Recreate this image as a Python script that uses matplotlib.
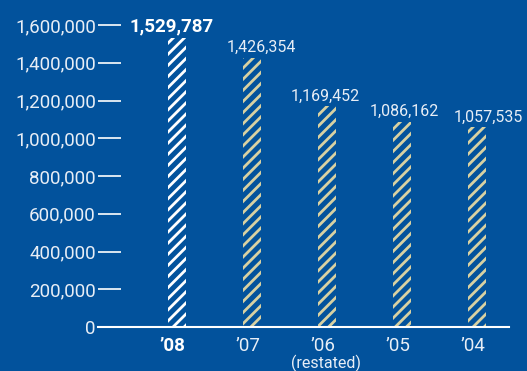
import matplotlib
matplotlib.use("Agg")
import matplotlib.pyplot as plt
from matplotlib.ticker import FuncFormatter

years = ["\u201908", "\u201907", "\u201906", "\u201905", "\u201904"]
values = [1529787, 1426354, 1169452, 1086162, 1057535]
value_labels = ["1,529,787", "1,426,354", "1,169,452", "1,086,162", "1,057,535"]
y_ticks = [0, 200000, 400000, 600000, 800000, 1000000, 1200000, 1400000, 1600000]

BG = "#02529c"
TEXT = "#e8eef6"
CURRENT = "#ffffff"
PRIOR = "#d8d1a2"

plt.rcParams["font.family"] = ["Roboto", "DejaVu Sans"]
plt.rcParams["hatch.linewidth"] = 2.0

W, H = 527, 371
fig = plt.figure(figsize=(W / 100, H / 100), dpi=100, facecolor=BG)
left, right, bottom, top = 98, 509, 327, 25
ax = fig.add_axes([left / W, (H - bottom) / H, (right - left) / W, (bottom - top) / H])
ax.set_facecolor(BG)

x = list(range(len(years)))
colors = [CURRENT] + [PRIOR] * (len(years) - 1)
ax.bar(x, values, width=0.23, fill=False, edgecolor=colors, linewidth=0, hatch="///")

ax.set_xlim(-1.053, 4.427)
ax.set_ylim(0, 1600000)

for s in ["top", "right", "left"]:
    ax.spines[s].set_visible(False)
ax.spines["bottom"].set_color("white")
ax.spines["bottom"].set_linewidth(1.5)

ax.set_yticks(y_ticks)
ax.yaxis.set_major_formatter(FuncFormatter(lambda v, p: f"{int(v):,}"))
ax.tick_params(axis="y", direction="in", length=16.5, width=1.2, color="white",
               labelcolor=TEXT, labelsize=13.5, pad=1.5)

ax.set_xticks([])

# category labels under the axis
for i, lab in enumerate(years):
    bold = i == 0
    ax.annotate(lab, (i, 0), xytext=(-3, -7), textcoords="offset points",
                ha="center", va="top", fontsize=13.5,
                fontweight="bold" if bold else "normal",
                color=CURRENT if bold else TEXT, annotation_clip=False)
ax.annotate("(restated)", (2, 0), xytext=(-1, -20), textcoords="offset points",
            ha="center", va="top", fontsize=11.5,
            color=TEXT, annotation_clip=False)

# value labels above bars
dx = [-4, 7, -1, 2, 8]
for i, (v, lab) in enumerate(zip(values, value_labels)):
    bold = i == 0
    ax.annotate(lab, (i, v), xytext=(dx[i], 2), textcoords="offset points",
                ha="center", va="bottom",
                fontsize=13.5 if bold else 11.5,
                fontweight="bold" if bold else "normal",
                color=CURRENT if bold else TEXT, annotation_clip=False)

fig.savefig("out.png", dpi=100, facecolor=BG)
